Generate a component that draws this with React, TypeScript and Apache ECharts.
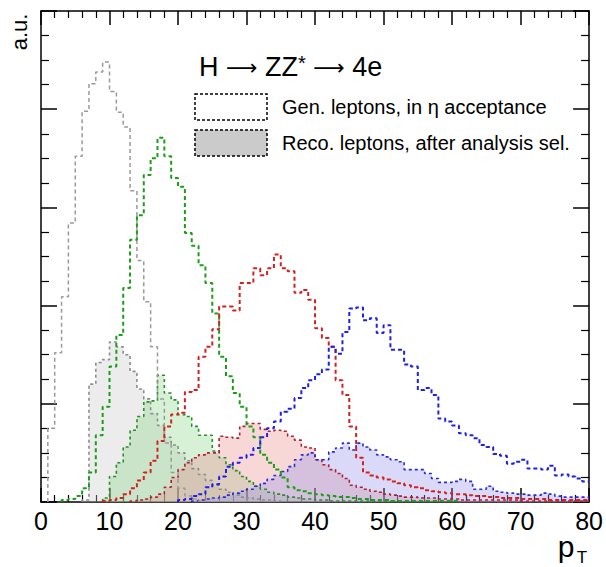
import React, { useEffect, useRef } from "react";
import * as echarts from "echarts";

// bin edges are integer GeV, bins 0..79 (pT from 0 to 80)
const xTicks = [0, 10, 20, 30, 40, 50, 60, 70, 80];

const grayGen = [
  0, 0.75, 1.52, 2.09, 2.84, 3.52, 3.98, 4.26, 4.38, 4.48,
  4.18, 3.97, 3.82, 3.17, 2.46, 2.04, 1.58, 1.05, 0.6, 0.3,
  0.14, 0.06, 0.03, 0.01, 0, 0, 0, 0, 0, 0,
  0, 0, 0, 0, 0, 0, 0, 0, 0, 0,
  0, 0, 0, 0, 0, 0, 0, 0, 0, 0,
  0, 0, 0, 0, 0, 0, 0, 0, 0, 0,
  0, 0, 0, 0, 0, 0, 0, 0, 0, 0,
  0, 0, 0, 0, 0, 0, 0, 0, 0, 0,
];
const grayReco = [
  0, 0, 0, 0, 0, 0, 0.02, 1.2, 1.42, 1.45,
  1.63, 1.58, 1.5, 1.33, 1.15, 1.05, 0.9, 0.78, 0.66, 0.58,
  0.5, 0.42, 0.34, 0.28, 0.22, 0.17, 0.13, 0.1, 0.07, 0.05,
  0.04, 0.03, 0.02, 0.02, 0.01, 0, 0, 0, 0, 0,
  0, 0, 0, 0, 0, 0, 0, 0, 0, 0,
  0, 0, 0, 0, 0, 0, 0, 0, 0, 0,
  0, 0, 0, 0, 0, 0, 0, 0, 0, 0,
  0, 0, 0, 0, 0, 0, 0, 0, 0, 0,
];
const greenGen = [
  0, 0, 0, 0.02, 0.03, 0.06, 0.14, 0.3, 0.68, 0.97,
  1.38, 1.7, 2.18, 2.67, 2.92, 3.33, 3.5, 3.71, 3.52, 3.3,
  3.21, 2.74, 2.61, 2.41, 2.23, 1.92, 1.48, 1.28, 1.11, 0.97,
  0.77, 0.66, 0.48, 0.4, 0.33, 0.25, 0.15, 0.12, 0.11, 0.09,
  0.08, 0.07, 0.06, 0.05, 0.05, 0.04, 0.03, 0.03, 0.02, 0.02,
  0.02, 0.01, 0.01, 0.01, 0.01, 0.01, 0.01, 0.01, 0.01, 0.01,
  0.01, 0, 0, 0, 0, 0, 0, 0, 0, 0,
  0, 0, 0, 0, 0, 0, 0, 0, 0, 0,
];
const greenReco = [
  0, 0, 0, 0, 0, 0, 0, 0, 0, 0.04,
  0.26, 0.4, 0.56, 0.73, 0.87, 1.02, 1.03, 1.29, 1.11, 1.04,
  0.89, 0.87, 0.77, 0.68, 0.68, 0.52, 0.45, 0.38, 0.32, 0.26,
  0.21, 0.16, 0.13, 0.1, 0.08, 0.07, 0.05, 0.04, 0.03, 0.03,
  0.02, 0.02, 0.01, 0.01, 0.01, 0.01, 0.01, 0.01, 0.01, 0.01,
  0.01, 0, 0, 0, 0, 0, 0, 0, 0, 0,
  0, 0, 0, 0, 0, 0, 0, 0, 0, 0,
  0, 0, 0, 0, 0, 0, 0, 0, 0, 0,
];
const redGen = [
  0, 0, 0, 0, 0, 0, 0, 0, 0, 0.01,
  0.02, 0.04, 0.08, 0.14, 0.22, 0.3, 0.42, 0.62, 0.77, 0.89,
  0.91, 1.12, 1.14, 1.48, 1.58, 1.76, 1.99, 1.99, 1.95, 2.23,
  2.23, 2.38, 2.31, 2.38, 2.52, 2.38, 2.35, 2.13, 2.16, 2.06,
  1.77, 1.67, 1.58, 1.24, 1.09, 0.77, 0.45, 0.3, 0.27, 0.25,
  0.23, 0.21, 0.19, 0.17, 0.15, 0.14, 0.12, 0.11, 0.1, 0.09,
  0.08, 0.08, 0.07, 0.06, 0.06, 0.05, 0.05, 0.04, 0.04, 0.04,
  0.03, 0.03, 0.03, 0.03, 0.02, 0.02, 0.02, 0.02, 0.02, 0.02,
];
const redReco = [
  0, 0, 0, 0, 0, 0, 0, 0, 0, 0,
  0, 0, 0, 0.01, 0.02, 0.03, 0.05, 0.08, 0.15, 0.25,
  0.33, 0.4, 0.45, 0.48, 0.5, 0.5, 0.67, 0.66, 0.65, 0.77,
  0.8, 0.8, 0.74, 0.72, 0.73, 0.72, 0.67, 0.63, 0.56, 0.55,
  0.43, 0.38, 0.33, 0.29, 0.24, 0.17, 0.15, 0.13, 0.11, 0.1,
  0.08, 0.07, 0.06, 0.05, 0.05, 0.04, 0.04, 0.04, 0.03, 0.03,
  0.03, 0.02, 0.02, 0.02, 0.02, 0.02, 0.02, 0.02, 0.02, 0.02,
  0.01, 0.01, 0.01, 0.01, 0.01, 0.01, 0.01, 0.01, 0.01, 0.01,
];
const blueGen = [
  0, 0, 0, 0, 0, 0, 0, 0, 0, 0,
  0, 0, 0, 0, 0, 0, 0, 0, 0, 0,
  0.02, 0.03, 0.06, 0.08, 0.15, 0.18, 0.26, 0.36, 0.4, 0.45,
  0.48, 0.55, 0.66, 0.75, 0.82, 0.92, 0.95, 1.06, 1.16, 1.24,
  1.3, 1.35, 1.58, 1.51, 1.73, 1.97, 1.98, 1.85, 1.87, 1.72,
  1.8, 1.55, 1.55, 1.4, 1.38, 1.14, 1.16, 1.09, 0.85, 0.82,
  0.78, 0.7, 0.68, 0.65, 0.58, 0.56, 0.49, 0.47, 0.39, 0.41,
  0.43, 0.34, 0.34, 0.33, 0.37, 0.27, 0.28, 0.26, 0.24, 0.21,
];
const blueReco = [
  0, 0, 0, 0, 0, 0, 0, 0, 0, 0,
  0, 0, 0, 0, 0, 0, 0, 0, 0, 0,
  0, 0, 0.01, 0.02, 0.03, 0.04, 0.05, 0.07, 0.09, 0.11,
  0.13, 0.16, 0.19, 0.23, 0.27, 0.31, 0.36, 0.43, 0.48, 0.5,
  0.43, 0.43, 0.51, 0.55, 0.6, 0.53, 0.6, 0.56, 0.53, 0.48,
  0.46, 0.43, 0.41, 0.33, 0.33, 0.33, 0.29, 0.24, 0.2, 0.2,
  0.21, 0.23, 0.21, 0.13, 0.13, 0.16, 0.11, 0.1, 0.09, 0.08,
  0.08, 0.07, 0.07, 0.09, 0.08, 0.06, 0.05, 0.05, 0.05, 0.05,
];

const titleRich = "{a|H }{r|\u27f6}{a| ZZ}{s|*}{a| }{r|\u27f6}{a| 4e}";
const legendGen = "Gen. leptons, in \u03b7 acceptance";
const legendReco = "Reco. leptons, after analysis sel.";

const FONT = "'Liberation Sans', Arial, Helvetica, sans-serif";

function histData(vals: number[]): number[][] {
  let first = -1;
  let last = -1;
  vals.forEach((v, i) => {
    if (v > 0) {
      if (first < 0) first = i;
      last = i;
    }
  });
  const pts: number[][] = [[first, 0]];
  for (let i = first; i <= last; i++) pts.push([i, vals[i]]);
  pts.push([last + 1, vals[last]]);
  if (last + 1 < vals.length) pts.push([last + 1, 0]);
  return pts;
}

function recoSeries(vals: number[], line: string, fill: string) {
  return {
    type: "line",
    step: "end",
    data: histData(vals),
    showSymbol: false,
    symbol: "none",
    silent: true,
    lineStyle: { color: line, width: 1.6, type: [3, 3] },
    areaStyle: { color: fill, origin: "start" },
  };
}

function genSeries(vals: number[], line: string, width: number) {
  return {
    type: "line",
    step: "end",
    data: histData(vals),
    showSymbol: false,
    symbol: "none",
    silent: true,
    lineStyle: { color: line, width, type: [4, 3] },
  };
}

export default function App() {
  const ref = useRef<HTMLDivElement>(null);
  useEffect(() => {
    if (!ref.current) return;
    const chart = echarts.init(ref.current, null, { renderer: "svg" });
    const axisCommonX = {
      type: "value",
      min: xTicks[0],
      max: xTicks[xTicks.length - 1],
      interval: 10,
      splitLine: { show: false },
      axisLine: { show: true, onZero: false, lineStyle: { color: "#000", width: 1.5 } },
      axisTick: { show: true, inside: true, length: 14, lineStyle: { color: "#000", width: 1.5 } },
      minorTick: { show: true, splitNumber: 5, length: 7, lineStyle: { color: "#000", width: 1.2 } },
    };
    const axisCommonY = {
      type: "value",
      min: 0,
      max: 5,
      interval: 1,
      splitLine: { show: false },
      axisLabel: { show: false },
      axisLine: { show: true, onZero: false, lineStyle: { color: "#000", width: 1.5 } },
      axisTick: { show: true, inside: true, length: 16, lineStyle: { color: "#000", width: 1.5 } },
      minorTick: { show: true, splitNumber: 4, length: 8, lineStyle: { color: "#000", width: 1.2 } },
    };
    chart.setOption({
      animation: false,
      backgroundColor: "#fff",
      grid: { left: 41, right: 16, top: 11, bottom: 65, containLabel: false },
      xAxis: [
        {
          ...axisCommonX,
          position: "bottom",
          axisLabel: { show: true, fontSize: 25, color: "#000", fontFamily: FONT, margin: 6 },
        },
        { ...axisCommonX, position: "top", axisLabel: { show: false } },
      ],
      yAxis: [
        { ...axisCommonY, position: "left" },
        { ...axisCommonY, position: "right" },
      ],
      series: [
        recoSeries(grayReco, "#8c8c8c", "rgba(200,200,200,0.5)"),
        recoSeries(greenReco, "#2a8c2a", "rgba(140,215,140,0.5)"),
        recoSeries(redReco, "#b02035", "rgba(235,140,140,0.5)"),
        recoSeries(blueReco, "#2a2ad8", "rgba(150,150,235,0.5)"),
        genSeries(grayGen, "#9a9a9a", 1.5),
        genSeries(greenGen, "#1a9e1a", 2),
        genSeries(redGen, "#d42020", 2),
        genSeries(blueGen, "#1f1fe6", 2),
      ],
      graphic: [
        {
          type: "text",
          x: 199,
          y: 67,
          style: {
            text: titleRich,
            fill: "#000",
            verticalAlign: "middle",
            align: "left",
            rich: {
              a: { fontSize: 27, fontFamily: FONT, fill: "#000" },
              r: { fontSize: 22, fontFamily: "'DejaVu Sans', sans-serif", fill: "#000" },
              s: { fontSize: 20, fontFamily: FONT, fill: "#000", verticalAlign: "top", padding: [0, 0, 8, 0] },
            },
          },
        },
        {
          type: "rect",
          shape: { x: 195, y: 94, width: 72, height: 26 },
          style: { fill: "#fff", stroke: "#000", lineWidth: 1.5, lineDash: [3, 2] },
        },
        {
          type: "rect",
          shape: { x: 195, y: 130, width: 72, height: 26 },
          style: { fill: "#cbcbcb", stroke: "#000", lineWidth: 1.5, lineDash: [3, 2] },
        },
        {
          type: "text",
          x: 282,
          y: 107,
          style: { text: legendGen, fontSize: 20, fill: "#000", fontFamily: FONT, verticalAlign: "middle", align: "left" },
        },
        {
          type: "text",
          x: 282,
          y: 143,
          style: { text: legendReco, fontSize: 20, fill: "#000", fontFamily: FONT, verticalAlign: "middle", align: "left" },
        },
        {
          type: "text",
          x: 19,
          y: 32,
          rotation: Math.PI / 2,
          style: { text: "a.u.", fontSize: 22, fill: "#000", fontFamily: FONT, align: "center", verticalAlign: "middle" },
        },
        {
          type: "text",
          x: 566,
          y: 546,
          style: { text: "p", fontSize: 30, fill: "#000", fontFamily: FONT, align: "center", verticalAlign: "middle" },
        },
        {
          type: "text",
          x: 582,
          y: 557,
          style: { text: "T", fontSize: 17, fill: "#000", fontFamily: FONT, align: "center", verticalAlign: "middle" },
        },
      ],
    });
    return () => chart.dispose();
  }, []);
  return (
    <div
      ref={ref}
      style={{ position: "absolute", left: 0, top: 0, width: 606, height: 567, background: "#fff" }}
    />
  );
}
